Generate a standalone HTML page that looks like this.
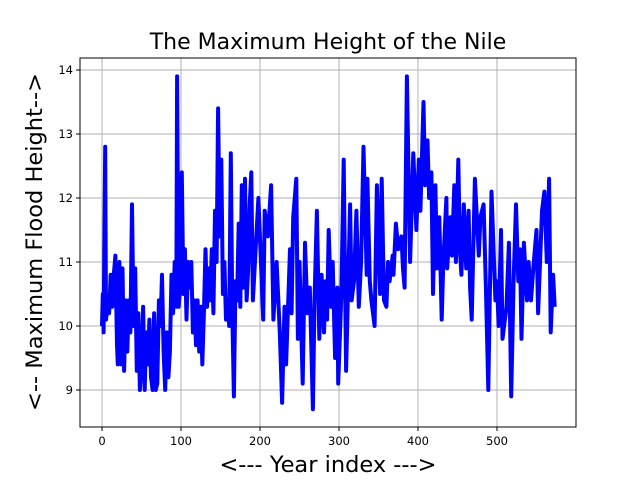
<!DOCTYPE html>
<html><head><meta charset="utf-8"><style>
body{margin:0;background:#fff;}
svg{display:block;font-family:"DejaVu Sans","Liberation Sans",sans-serif;}
</style></head><body>
<svg id="chart" width="640" height="480">
<rect width="640" height="480" fill="#fff"/>
<text x="328" y="49" text-anchor="middle" font-size="22">The Maximum Height of the Nile</text>
<g id="grid"></g>
<g id="ticks"></g>
<path id="line" fill="none" stroke="#0000ff" stroke-width="4" stroke-linejoin="round"/>
<rect x="80" y="58" width="496" height="369" fill="none" stroke="#000" stroke-width="1"/>
<text x="328" y="472" text-anchor="middle" font-size="22.5">&lt;--- Year index ---&gt;</text>
<text transform="translate(42,242) rotate(-90)" text-anchor="middle" font-size="22.5">&lt;-- Maximum Flood Height--&gt;</text>
</svg>
<script>
const years=[0,1,2,4,5,7,9,11,13,15,17,19,20,22,24,26,28,30,32,34,36,38,40,42,44,46,48,50,52,54,56,58,60,62,64,66,68,70,72,74,76,78,80,82,84,86,88,90,92,94,95,97,99,101,103,105,107,109,111,113,115,117,119,121,123,125,127,129,131,133,135,137,139,141,143,145,147,149,151,153,155,157,159,161,163,165,167,169,171,173,175,177,179,181,183,185,187,
189,191,198,204,206,210,214,217,221,225,228,231,233,238,240,242,246,248,250,254,257,260,263,267,269,272,275,278,281,283,285,287,290,292,295,298,299,303,306,309,314,316,319,322,325,328,331,335,336,339,341,345,348,352,354,357,360,362,364,368,369,372,375,379,381,383,386,389,
390,394,398,401,403,407,409,412,414,417,419,422,424,427,430,432,436,437,441,443,446,448,451,453,455,458,461,464,466,468,472,477,479,483,486,489,493,498,500,502,505,507,512,515,518,521,524,527,529,531,534,538,540,543,546,550,552,557,560,563,566,568,571,573];
const heights=[10.0,10.5,9.9,12.8,10.1,10.3,10.2,10.8,10.3,10.8,11.1,9.7,9.4,11.0,9.4,10.9,9.3,10.4,9.6,10.4,9.9,11.9,10.0,10.9,9.3,10.2,9.0,9.4,10.3,9.0,9.9,9.4,10.1,9.2,9.0,10.2,9.0,9.1,10.4,10.0,10.8,9.6,9.0,9.9,9.2,9.6,10.8,10.2,11.0,10.3,13.9,10.3,10.6,12.4,10.5,11.2,10.1,11.0,10.6,11.0,9.9,10.4,9.7,10.4,9.6,10.3,9.4,10.2,11.2,10.3,10.9,10.4,11.2,10.2,11.8,11.0,13.4,11.4,12.6,10.5,11.0,10.1,10.4,10.0,12.7,10.2,8.9,10.7,10.4,11.6,10.3,12.2,10.6,12.3,10.4,10.9,11.9,
12.4,10.4,12.0,10.1,11.8,11.4,12.2,10.1,11.0,9.9,8.8,10.3,9.4,11.2,10.2,11.7,12.3,9.8,11.0,9.1,11.3,10.2,10.6,8.7,10.4,11.8,9.8,10.8,9.9,10.7,10.1,11.5,10.3,11.0,9.5,10.6,9.1,10.5,12.6,9.3,11.9,10.4,10.7,11.8,10.3,11.0,12.8,10.8,12.3,10.7,10.4,10.0,12.2,10.5,12.3,10.4,10.3,11.0,10.7,11.1,10.8,11.6,11.2,11.4,10.9,10.6,13.9,11.7,
11.0,12.7,11.5,12.6,11.8,13.5,12.2,12.9,12.0,12.4,10.5,12.2,10.9,11.7,10.1,11.0,12.0,10.9,11.7,11.1,12.2,11.0,12.6,11.2,10.8,11.9,10.9,11.8,10.6,10.1,12.3,11.1,11.7,11.9,10.6,9.0,12.1,10.4,10.7,10.0,11.5,9.8,10.3,11.3,8.9,10.7,11.9,10.7,11.2,9.8,11.3,10.4,11.0,10.4,10.9,11.5,10.2,11.8,12.1,11.0,12.3,9.9,10.8,10.3];
const xTicks=[0,100,200,300,400,500];
const yTicks=[9,10,11,12,13,14];
const X=v=>102+v*0.79;
const Y=v=>326-(v-10)*64;
const NS="http://www.w3.org/2000/svg";
const grid=document.getElementById('grid'),ticks=document.getElementById('ticks');
function mk(tag,attrs,parent){const e=document.createElementNS(NS,tag);for(const k in attrs)e.setAttribute(k,attrs[k]);parent.appendChild(e);return e;}
xTicks.forEach(t=>{
 const g=mk('line',{x1:X(t),x2:X(t),y1:58,y2:427,stroke:'#b0b0b0','stroke-width':1},grid);
 
 
 mk('line',{x1:X(t),x2:X(t),y1:427,y2:431,stroke:'#000'},ticks);
 const l=mk('text',{x:X(t),y:445,'text-anchor':'middle','font-size':11.5},ticks);
 l.textContent=t;
 
 
});
yTicks.forEach(t=>{
 const g=mk('line',{x1:80,x2:576,y1:Y(t),y2:Y(t),stroke:'#b0b0b0','stroke-width':1},grid);
 
 
 mk('line',{x1:76,x2:80,y1:Y(t),y2:Y(t),stroke:'#000'},ticks);
 const l=mk('text',{x:73,y:Y(t)+4,'text-anchor':'end','font-size':11.5},ticks);
 l.textContent=t;
 
 
});
document.getElementById('line').setAttribute('d',years.map((x,i)=>(i?'L':'M')+X(x).toFixed(1)+' '+Y(heights[i]).toFixed(1)).join(''));
</script>
</body></html>
